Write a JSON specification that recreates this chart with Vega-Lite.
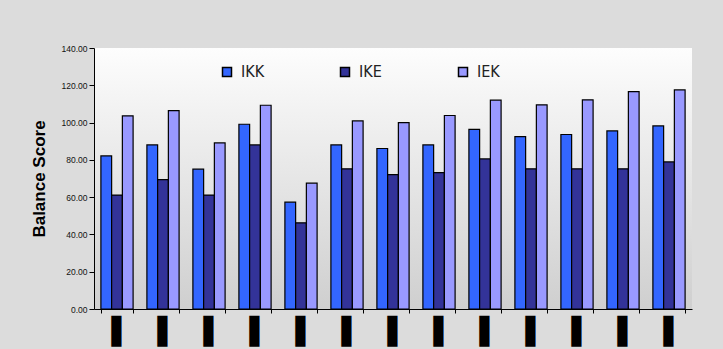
{
  "$schema": "https://vega.github.io/schema/vega-lite/v6.json",
  "width": 598,
  "height": 261,
  "autosize": {"type": "none"},
  "padding": {"left": 94, "top": 48, "right": 31, "bottom": 40},
  "background": "#dcdcdc",
  "config": {
    "font": "Liberation Sans",
    "view": {
      "stroke": null,
      "fill": {
        "gradient": "linear",
        "x1": 0, "y1": 0, "x2": 0, "y2": 1,
        "stops": [
          {"offset": 0, "color": "#fdfdfd"},
          {"offset": 1, "color": "#cfcfcf"}
        ]
      }
    }
  },
  "data": {
    "values": [
      {"group": "1", "series": "IKK", "score": 82.1},
      {"group": "1", "series": "IKE", "score": 61.1},
      {"group": "1", "series": "IEK", "score": 103.6},
      {"group": "2", "series": "IKK", "score": 88.0},
      {"group": "2", "series": "IKE", "score": 69.4},
      {"group": "2", "series": "IEK", "score": 106.4},
      {"group": "3", "series": "IKK", "score": 75.0},
      {"group": "3", "series": "IKE", "score": 61.1},
      {"group": "3", "series": "IEK", "score": 89.1},
      {"group": "4", "series": "IKK", "score": 99.1},
      {"group": "4", "series": "IKE", "score": 88.0},
      {"group": "4", "series": "IEK", "score": 109.3},
      {"group": "5", "series": "IKK", "score": 57.3},
      {"group": "5", "series": "IKE", "score": 46.2},
      {"group": "5", "series": "IEK", "score": 67.5},
      {"group": "6", "series": "IKK", "score": 88.0},
      {"group": "6", "series": "IKE", "score": 75.2},
      {"group": "6", "series": "IEK", "score": 100.9},
      {"group": "7", "series": "IKK", "score": 86.1},
      {"group": "7", "series": "IKE", "score": 72.1},
      {"group": "7", "series": "IEK", "score": 100.0},
      {"group": "8", "series": "IKK", "score": 88.0},
      {"group": "8", "series": "IKE", "score": 73.2},
      {"group": "8", "series": "IEK", "score": 103.8},
      {"group": "9", "series": "IKK", "score": 96.3},
      {"group": "9", "series": "IKE", "score": 80.5},
      {"group": "9", "series": "IEK", "score": 112.0},
      {"group": "10", "series": "IKK", "score": 92.5},
      {"group": "10", "series": "IKE", "score": 75.2},
      {"group": "10", "series": "IEK", "score": 109.5},
      {"group": "11", "series": "IKK", "score": 93.6},
      {"group": "11", "series": "IKE", "score": 75.2},
      {"group": "11", "series": "IEK", "score": 112.2},
      {"group": "12", "series": "IKK", "score": 95.5},
      {"group": "12", "series": "IKE", "score": 75.2},
      {"group": "12", "series": "IEK", "score": 116.6},
      {"group": "13", "series": "IKK", "score": 98.2},
      {"group": "13", "series": "IKE", "score": 78.9},
      {"group": "13", "series": "IEK", "score": 117.5}
    ]
  },
  "mark": {"type": "bar", "stroke": "#000000", "strokeWidth": 1.2},
  "encoding": {
    "x": {
      "field": "group",
      "type": "ordinal",
      "sort": null,
      "scale": {"paddingInner": 0.3, "paddingOuter": 0.15},
      "axis": {
        "title": null,
        "labelExpr": "isValid(datum.value) ? '▌' : ''",
        "labelAngle": 0,
        "labelAlign": "left",
        "labelOffset": -6,
        "labelFont": "DejaVu Sans",
        "labelFontSize": 26,
        "labelColor": "#000000",
        "labelPadding": 5,
        "labelOverlap": false,
        "labelBound": false,
        "tickBand": "extent",
        "tickSize": 4,
        "tickColor": "#000000",
        "domainColor": "#000000",
        "domainWidth": 1
      }
    },
    "xOffset": {"field": "series", "sort": ["IKK", "IKE", "IEK"]},
    "y": {
      "field": "score",
      "type": "quantitative",
      "scale": {"domain": [0, 140]},
      "axis": {
        "title": "Balance Score",
        "titleFont": "Liberation Sans",
        "titleFontSize": 17,
        "titleFontWeight": "bold",
        "titleColor": "#000000",
        "titlePadding": 13,
        "format": ".2f",
        "values": [0, 20, 40, 60, 80, 100, 120, 140],
        "labelFontSize": 8.5,
        "labelColor": "#111111",
        "labelPadding": 2,
        "tickColor": "#000000",
        "tickSize": 5,
        "domainColor": "#000000",
        "grid": false
      }
    },
    "color": {
      "field": "series",
      "type": "nominal",
      "scale": {"domain": ["IKK", "IKE", "IEK"], "range": ["#3366ff", "#333399", "#9999ff"]},
      "legend": {
        "title": null,
        "orient": "none",
        "legendX": 125,
        "legendY": 16,
        "direction": "horizontal",
        "symbolType": "square",
        "symbolSize": 81,
        "symbolStrokeColor": "#000000",
        "symbolStrokeWidth": 1.5,
        "symbolOpacity": 1,
        "labelFont": "DejaVu Sans Condensed, Liberation Sans",
        "labelFontSize": 16,
        "labelColor": "#222222",
        "labelOffset": 6,
        "columnPadding": 72,
        "gridAlign": "all"
      }
    }
  }
}
